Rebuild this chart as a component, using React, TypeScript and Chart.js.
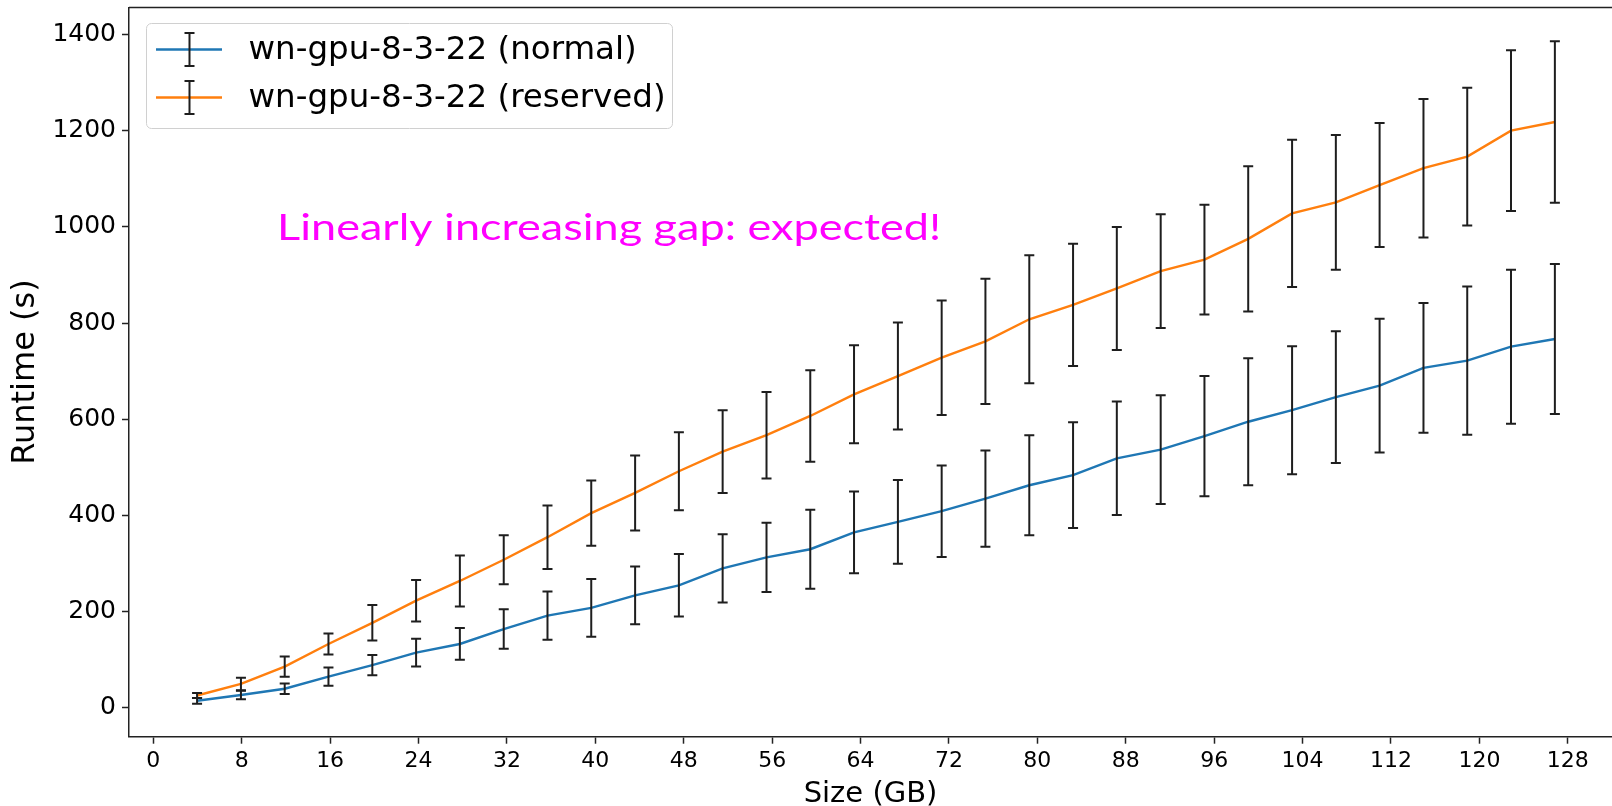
import React, { useEffect, useRef } from "react";
import { Chart, registerables } from "chart.js";

Chart.register(...registerables);

// ---- Data ----
const SIZES_GB = [
  3.96, 7.93, 11.89, 15.85, 19.82, 23.78, 27.74, 31.71, 35.67, 39.63, 43.6, 47.56,
  51.52, 55.49, 59.45, 63.41, 67.38, 71.34, 75.3, 79.27, 83.23, 87.19, 91.16, 95.12,
  99.08, 103.05, 107.01, 110.97, 114.94, 118.9, 122.86, 126.83,
];
const NORMAL_MEAN = [
  15, 27, 40, 65, 89, 115, 133, 164, 192, 208, 234, 255, 290, 313, 330, 365, 387, 409,
  435, 463, 484, 519, 537, 565, 595, 619, 646, 670, 707, 722, 751, 767,
];
const NORMAL_ERR = [
  6, 9, 11, 19, 21, 29, 33, 41, 50, 60, 60, 65, 71, 72, 82, 85, 87, 95, 100, 104, 110,
  118, 113, 125, 132, 133, 137, 139, 135, 154, 160, 156,
];
const RESERVED_MEAN = [
  26, 50, 86, 133, 177, 223, 264, 308, 355, 405, 447, 492, 533, 567, 607, 652, 690, 728,
  762, 808, 838, 872, 908, 932, 975, 1028, 1051, 1087, 1122, 1146, 1200, 1218,
];
const RESERVED_ERR = [
  5, 13, 21, 22, 37, 43, 53, 51, 66, 68, 78, 81, 86, 90, 95, 102, 111, 119, 130, 133,
  127, 128, 118, 114, 151, 153, 140, 129, 144, 143, 167, 168,
];
const X_TICKS = [0, 8, 16, 24, 32, 40, 48, 56, 64, 72, 80, 88, 96, 104, 112, 120, 128];
const Y_TICKS = [0, 200, 400, 600, 800, 1000, 1200, 1400];
const SERIES_LABELS = ["wn-gpu-8-3-22 (normal)", "wn-gpu-8-3-22 (reserved)"];
const SERIES_COLORS = ["#1f77b4", "#ff7f0e"];
const X_TITLE = "Size (GB)";
const Y_TITLE = "Runtime (s)";
const ANNOTATION = "Linearly increasing gap: expected!";
const ANNOT_X = 11.2;
const ANNOT_Y = 973;

const X_MIN = -2.2;
const X_MAX = 132.0;
const Y_MIN = -59.7;
const Y_MAX = 1456;

const SPINE = "#222222";
const ERR_COLOR = "#1e1e1e";

const errorBarPlugin = {
  id: "errorBars",
  afterDatasetsDraw(chart: any) {
    const { ctx, scales } = chart;
    const x = scales.x;
    const y = scales.y;
    ctx.save();
    ctx.strokeStyle = ERR_COLOR;
    ctx.lineWidth = 2;
    chart.data.datasets.forEach((ds: any) => {
      ds.data.forEach((pt: any, i: number) => {
        const e = ds.errors[i];
        const px = x.getPixelForValue(pt.x);
        const top = y.getPixelForValue(pt.y + e);
        const bot = y.getPixelForValue(pt.y - e);
        ctx.beginPath();
        ctx.moveTo(px, top);
        ctx.lineTo(px, bot);
        ctx.moveTo(px - 5, top);
        ctx.lineTo(px + 5, top);
        ctx.moveTo(px - 5, bot);
        ctx.lineTo(px + 5, bot);
        ctx.stroke();
      });
    });
    ctx.restore();
  },
};

const decorPlugin = {
  id: "decor",
  afterDraw(chart: any) {
    const { ctx, chartArea, scales } = chart;
    ctx.save();
    // top spine
    ctx.strokeStyle = SPINE;
    ctx.lineWidth = 1.5;
    ctx.beginPath();
    ctx.moveTo(chartArea.left, chartArea.top);
    ctx.lineTo(chartArea.right, chartArea.top);
    ctx.stroke();

    // annotation text
    const ax = scales.x.getPixelForValue(ANNOT_X);
    const ay = scales.y.getPixelForValue(ANNOT_Y);
    ctx.font = "36px Lato";
    const w = ctx.measureText(ANNOTATION).width;
    const sx = 664 / w;
    ctx.fillStyle = "#ff00ff";
    ctx.textBaseline = "alphabetic";
    ctx.textAlign = "left";
    ctx.translate(ax, ay);
    ctx.scale(sx, 1);
    ctx.fillText(ANNOTATION, 0, 0);
    ctx.setTransform(1, 0, 0, 1, 0, 0);

    // legend
    const bx = 146.5, by = 23.5, bw = 526, bh = 105, r = 5;
    ctx.beginPath();
    ctx.moveTo(bx + r, by);
    ctx.lineTo(bx + bw - r, by);
    ctx.arcTo(bx + bw, by, bx + bw, by + r, r);
    ctx.lineTo(bx + bw, by + bh - r);
    ctx.arcTo(bx + bw, by + bh, bx + bw - r, by + bh, r);
    ctx.lineTo(bx + r, by + bh);
    ctx.arcTo(bx, by + bh, bx, by + bh - r, r);
    ctx.lineTo(bx, by + r);
    ctx.arcTo(bx, by, bx + r, by, r);
    ctx.closePath();
    ctx.fillStyle = "rgba(255,255,255,0.8)";
    ctx.fill();
    ctx.strokeStyle = "#d0d0d0";
    ctx.lineWidth = 1;
    ctx.stroke();

    const rows = [49.5, 97.5];
    chart.data.datasets.forEach((ds: any, i: number) => {
      const ry = rows[i];
      ctx.strokeStyle = ds.borderColor;
      ctx.lineWidth = 2.5;
      ctx.beginPath();
      ctx.moveTo(156, ry);
      ctx.lineTo(222, ry);
      ctx.stroke();
      ctx.strokeStyle = ERR_COLOR;
      ctx.lineWidth = 2;
      ctx.beginPath();
      ctx.moveTo(189.5, ry - 16.5);
      ctx.lineTo(189.5, ry + 16.5);
      ctx.moveTo(184.5, ry - 16.5);
      ctx.lineTo(194.5, ry - 16.5);
      ctx.moveTo(184.5, ry + 16.5);
      ctx.lineTo(194.5, ry + 16.5);
      ctx.stroke();
      ctx.fillStyle = "#000";
      ctx.font = "32.5px 'DejaVu Sans'";
      ctx.textBaseline = "middle";
      ctx.fillText(ds.label, 248.5, ry + 1);
    });
    ctx.restore();
  },
};

export default function App() {
  const canvasRef = useRef<HTMLCanvasElement | null>(null);

  useEffect(() => {
    document.body.style.margin = "0";
    document.body.style.overflow = "hidden";
    const canvas = canvasRef.current;
    if (!canvas) return;

    const mk = (means: number[], errs: number[], i: number) => ({
      label: SERIES_LABELS[i],
      data: SIZES_GB.map((x, k) => ({ x, y: means[k] })),
      errors: errs,
      borderColor: SERIES_COLORS[i],
      backgroundColor: SERIES_COLORS[i],
      borderWidth: 2.4,
      pointRadius: 0,
      tension: 0,
      fill: false,
    });

    const chart = new Chart(canvas, {
      type: "line",
      data: {
        datasets: [mk(NORMAL_MEAN, NORMAL_ERR, 0), mk(RESERVED_MEAN, RESERVED_ERR, 1)] as any,
      },
      options: {
        animation: false,
        responsive: true,
        maintainAspectRatio: false,
        devicePixelRatio: 1,
        layout: { padding: { top: 7.5, left: 0, right: 0, bottom: 0 } },
        plugins: {
          legend: { display: false },
          tooltip: { enabled: false },
        },
        scales: {
          x: {
            type: "linear",
            min: X_MIN,
            max: X_MAX,
            afterBuildTicks: (scale: any) => {
              scale.ticks = X_TICKS.map((v) => ({ value: v }));
            },
            afterFit: (scale: any) => {
              scale.height = 69.3;
              scale.paddingLeft = 0;
              scale.paddingRight = 0;
            },
            grid: {
              drawOnChartArea: false,
              drawTicks: true,
              tickLength: 7,
              tickColor: SPINE,
              tickWidth: 1.5,
            },
            border: { display: true, color: SPINE, width: 1.5 },
            ticks: {
              color: "#000",
              font: { family: "DejaVu Sans", size: 22 },
              padding: 4,
              maxRotation: 0,
              autoSkip: false,
              callback: (v: any) => String(v),
            },
            title: {
              display: true,
              text: X_TITLE,
              color: "#000",
              font: { family: "DejaVu Sans", size: 29, lineHeight: 1 },
              padding: { top: 0, bottom: -3 },
            },
          },
          y: {
            type: "linear",
            min: Y_MIN,
            max: Y_MAX,
            afterBuildTicks: (scale: any) => {
              scale.ticks = Y_TICKS.map((v) => ({ value: v }));
            },
            afterFit: (scale: any) => {
              scale.width = 129;
              scale.paddingTop = 0;
              scale.paddingBottom = 0;
            },
            grid: {
              drawOnChartArea: false,
              drawTicks: true,
              tickLength: 7,
              tickColor: SPINE,
              tickWidth: 1.5,
            },
            border: { display: true, color: SPINE, width: 1.5 },
            ticks: {
              color: "#000",
              font: { family: "DejaVu Sans", size: 25 },
              padding: 6,
              autoSkip: false,
              callback: (v: any) => String(v),
            },
            title: {
              display: true,
              text: Y_TITLE,
              color: "#000",
              font: { family: "DejaVu Sans", size: 32, lineHeight: 1.2 },
              padding: { top: 6, bottom: 0 },
            },
          },
        },
      } as any,
      plugins: [errorBarPlugin, decorPlugin],
    });

    return () => chart.destroy();
  }, []);

  return (
    <div style={{ width: 1612, height: 806, position: "relative" }}>
      <canvas ref={canvasRef} />
    </div>
  );
}
